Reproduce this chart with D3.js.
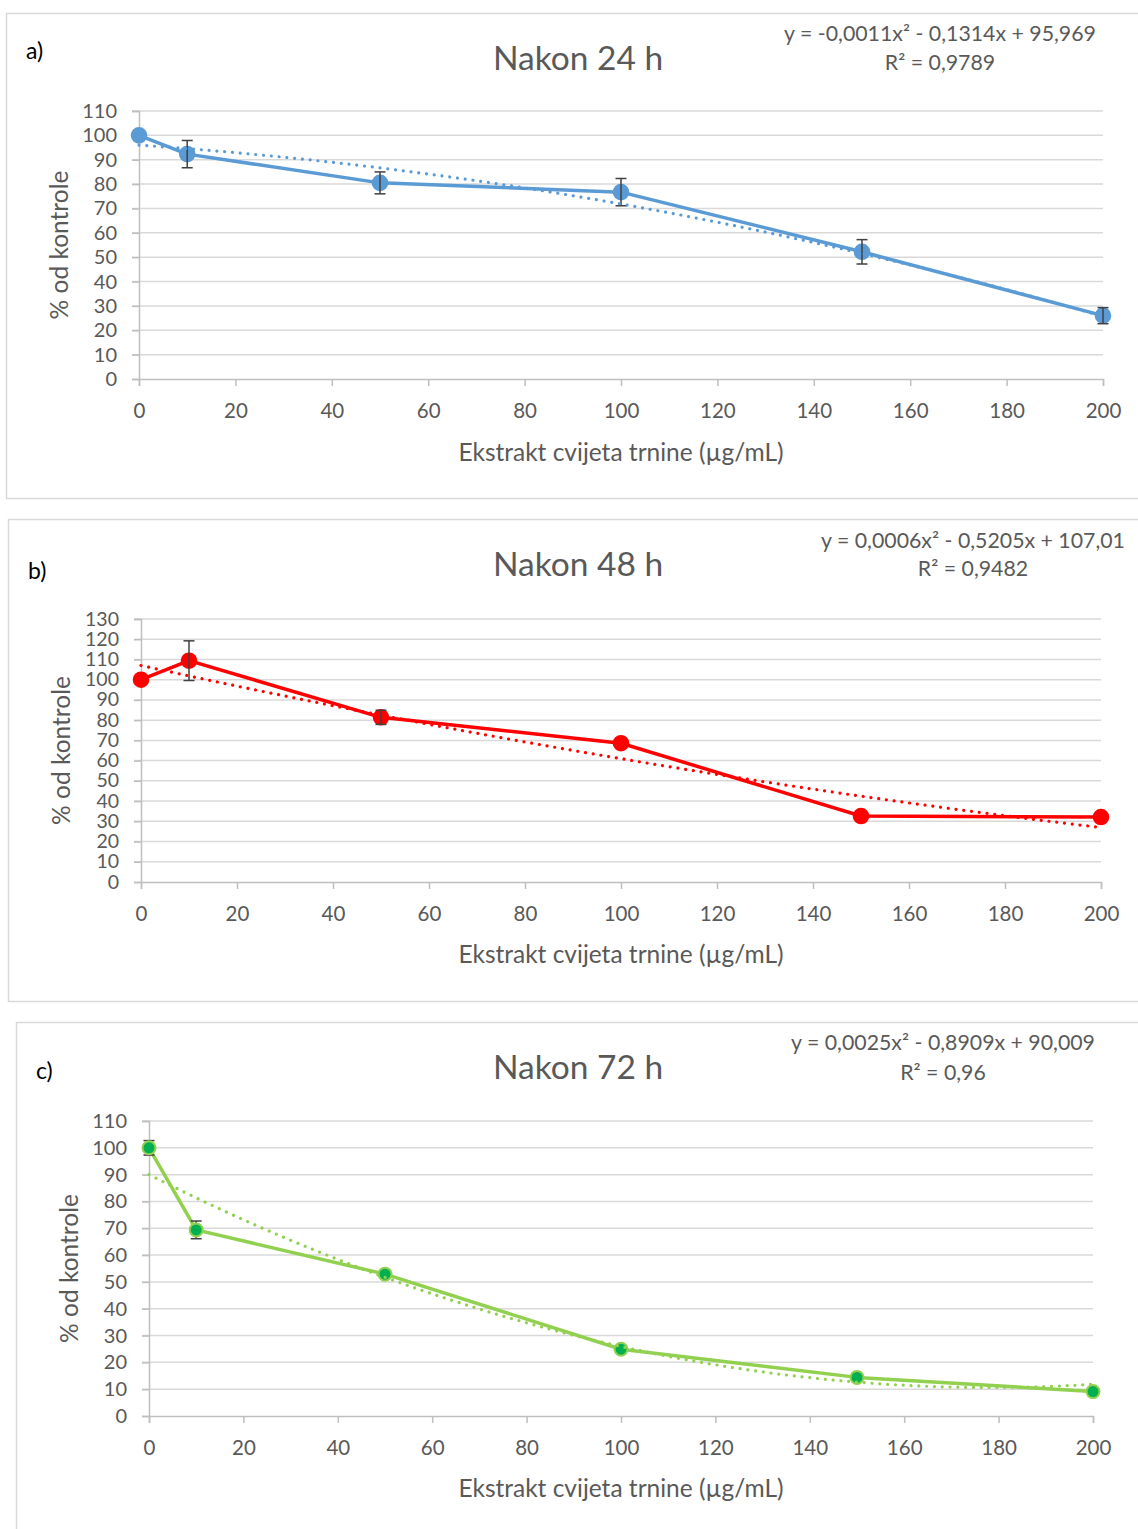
<!DOCTYPE html>
<html>
<head>
<meta charset="utf-8">
<script src="https://cdn.jsdelivr.net/npm/d3@7"></script>
<style>
  html, body { margin: 0; padding: 0; background: #fff; }
  svg { display: block; font-family: Lato, "Open Sans", sans-serif; }
</style>
</head>
<body>
<svg id="chart" width="1138" height="1529"></svg>
<script>
// ---------- data ----------
const concentrations = [0, 10, 50, 100, 150, 200];
const xTickValues = [0, 20, 40, 60, 80, 100, 120, 140, 160, 180, 200];

const values24 = [100, 92.3, 80.5, 76.7, 52.2, 26.0];
const errors24 = [0, 5.6, 4.5, 5.6, 5.0, 3.3];
const yTicks24 = [0, 10, 20, 30, 40, 50, 60, 70, 80, 90, 100, 110];
const trendCoef24 = [-0.0011, -0.1314, 95.969];
const equation24 = "y = -0,0011x² - 0,1314x + 95,969";
const rSquared24 = "R² = 0,9789";

const values48 = [100, 109.4, 81.4, 68.6, 32.6, 32.1];
const errors48 = [0, 9.8, 3.5, 0, 0, 0];
const yTicks48 = [0, 10, 20, 30, 40, 50, 60, 70, 80, 90, 100, 110, 120, 130];
const trendCoef48 = [0.0006, -0.5205, 107.01];
const equation48 = "y = 0,0006x² - 0,5205x + 107,01";
const rSquared48 = "R² = 0,9482";

const values72 = [100, 69.4, 52.9, 24.9, 14.4, 9.1];
const errors72 = [2.7, 3.3, 0, 0, 0, 0];
const yTicks72 = [0, 10, 20, 30, 40, 50, 60, 70, 80, 90, 100, 110];
const trendCoef72 = [0.0025, -0.8909, 90.009];
const equation72 = "y = 0,0025x² - 0,8909x + 90,009";
const rSquared72 = "R² = 0,96";

const panelLabels = ["a)", "b)", "c)"];
const panelTitles = ["Nakon 24 h", "Nakon 48 h", "Nakon 72 h"];
const xAxisTitle = "Ekstrakt cvijeta trnine (µg/mL)";
const yAxisTitle = "% od kontrole";

// ---------- layout ----------
const panels = [
  { values: values24, errors: errors24, yTicks: yTicks24, coef: trendCoef24, eq: equation24, r2: rSquared24,
    label: panelLabels[0], title: panelTitles[0],
    box: {x: 6.5, y: 13.5, h: 485}, plot: {l: 139, r: 1103, t: 111, b: 379},
    labelPos: [26, 50], titleY: 57, eqX: 940, eqY: [33, 62], yTitleX: 58, xTitleY: 451,
    color: "#5b9bd5", markerFill: "#5b9bd5", markerStroke: "#5b9bd5", markerR: 7.3, errOnTop: true, tickFont: 20 },
  { values: values48, errors: errors48, yTicks: yTicks48, coef: trendCoef48, eq: equation48, r2: rSquared48,
    label: panelLabels[1], title: panelTitles[1],
    box: {x: 8.5, y: 519.5, h: 482}, plot: {l: 141, r: 1101, t: 619, b: 882},
    labelPos: [28, 570], titleY: 563, eqX: 973, eqY: [540, 568], yTitleX: 60, xTitleY: 953,
    color: "#ff0000", markerFill: "#ff0000", markerStroke: "#ff0000", markerR: 7.3, errOnTop: true, tickFont: 19.5 },
  { values: values72, errors: errors72, yTicks: yTicks72, coef: trendCoef72, eq: equation72, r2: rSquared72,
    label: panelLabels[2], title: panelTitles[2],
    box: {x: 16.5, y: 1022.5, h: 520}, plot: {l: 149, r: 1093, t: 1121, b: 1416},
    labelPos: [36, 1070], titleY: 1066, eqX: 943, eqY: [1042, 1072], yTitleX: 68, xTitleY: 1487,
    color: "#92d050", markerFill: "#00b050", markerStroke: "#92d050", markerR: 6.5, errOnTop: false, tickFont: 20 }
];

const svg = d3.select("#chart");
const textColor = "#595959";

panels.forEach(p => {
  const g = svg.append("g");

  // frame
  g.append("rect")
    .attr("x", p.box.x).attr("y", p.box.y)
    .attr("width", 1145).attr("height", p.box.h)
    .attr("fill", "#fff").attr("stroke", "#d9d9d9").attr("stroke-width", 1.5);

  const yMax = d3.max(p.yTicks);
  const x = d3.scaleLinear().domain([0, 200]).range([p.plot.l, p.plot.r]);
  const y = d3.scaleLinear().domain([0, yMax]).range([p.plot.b, p.plot.t]);

  // gridlines
  g.append("g").selectAll("line").data(p.yTicks.filter(v => v > 0)).join("line")
    .attr("x1", p.plot.l - 7).attr("x2", p.plot.r)
    .attr("y1", d => y(d)).attr("y2", d => y(d))
    .attr("stroke", "#d9d9d9").attr("stroke-width", 1.5);

  // y axis
  const yAxis = g.append("g").attr("transform", `translate(${p.plot.l},0)`)
    .call(d3.axisLeft(y).tickValues(p.yTicks).tickSize(7).tickFormat(d3.format("d")));
  yAxis.select(".domain").attr("stroke", "#bfbfbf").attr("stroke-width", 1.5);
  yAxis.selectAll(".tick line").attr("stroke", "#bfbfbf").attr("stroke-width", 1.5);
  yAxis.selectAll(".tick text").attr("fill", textColor).attr("font-size", p.tickFont)
    .attr("font-family", "Lato, sans-serif")
    .attr("x", -22).attr("y", -1.5).attr("dy", null).attr("dominant-baseline", "central");

  // x axis
  const xAxis = g.append("g").attr("transform", `translate(0,${p.plot.b})`)
    .call(d3.axisBottom(x).tickValues(xTickValues).tickSize(7).tickFormat(d3.format("d")));
  xAxis.select(".domain").attr("stroke", "#bfbfbf").attr("stroke-width", 1.5);
  xAxis.selectAll(".tick line").attr("stroke", "#bfbfbf").attr("stroke-width", 1.5);
  xAxis.selectAll(".tick text").attr("fill", textColor).attr("font-size", 20.5)
    .attr("font-family", "Lato, sans-serif")
    .attr("y", 31).attr("dy", null).attr("dominant-baseline", "central");

  const pts = concentrations.map((c, i) => ({x: c, y: p.values[i], e: p.errors[i]}));

  const drawErrors = () => {
    const eb = g.append("g").attr("stroke", "#404040").attr("stroke-width", 1.5);
    pts.filter(d => d.e > 0).forEach(d => {
      eb.append("line").attr("x1", x(d.x)).attr("x2", x(d.x))
        .attr("y1", y(d.y - d.e)).attr("y2", y(d.y + d.e));
      [d.y - d.e, d.y + d.e].forEach(v => {
        eb.append("line").attr("x1", x(d.x) - 5.5).attr("x2", x(d.x) + 5.5)
          .attr("y1", y(v)).attr("y2", y(v));
      });
    });
  };

  // series line
  g.append("path").datum(pts)
    .attr("d", d3.line().x(d => x(d.x)).y(d => y(d.y)))
    .attr("fill", "none").attr("stroke", p.color).attr("stroke-width", 3.5)
    .attr("stroke-linejoin", "round");

  if (!p.errOnTop) drawErrors();

  // markers
  g.append("g").selectAll("circle").data(pts).join("circle")
    .attr("cx", d => x(d.x)).attr("cy", d => y(d.y)).attr("r", p.markerR)
    .attr("fill", p.markerFill).attr("stroke", p.markerStroke).attr("stroke-width", 2);

  if (p.errOnTop) drawErrors();

  // polynomial trendline (from the displayed equation coefficients)
  const trendX = d3.range(0, 200.01, 1);
  const trendPts = trendX.map(v => ({x: v, y: p.coef[0] * v * v + p.coef[1] * v + p.coef[2]}));
  g.append("path").datum(trendPts)
    .attr("d", d3.line().x(d => x(d.x)).y(d => y(d.y)))
    .attr("fill", "none").attr("stroke", p.color).attr("stroke-width", 3.2)
    .attr("stroke-linecap", "round").attr("stroke-dasharray", "0.01 7.8");

  // texts
  g.append("text").attr("x", p.labelPos[0]).attr("y", p.labelPos[1])
    .attr("dominant-baseline", "central").attr("font-size", 23).attr("fill", "#000")
    .text(p.label);
  g.append("text").attr("x", 578).attr("y", p.titleY)
    .attr("text-anchor", "middle").attr("dominant-baseline", "central")
    .attr("font-size", 33.5).attr("fill", textColor).text(p.title);
  g.append("text").attr("x", p.eqX).attr("y", p.eqY[0])
    .attr("text-anchor", "middle").attr("dominant-baseline", "central")
    .attr("font-size", 21.3).attr("fill", textColor).text(p.eq);
  g.append("text").attr("x", p.eqX).attr("y", p.eqY[1])
    .attr("text-anchor", "middle").attr("dominant-baseline", "central")
    .attr("font-size", 21.3).attr("fill", textColor).text(p.r2);
  g.append("text")
    .attr("transform", `translate(${p.yTitleX},${(p.plot.t + p.plot.b) / 2}) rotate(-90)`)
    .attr("text-anchor", "middle").attr("dominant-baseline", "central")
    .attr("font-size", 24.5).attr("fill", textColor).text(yAxisTitle);
  g.append("text").attr("x", 621).attr("y", p.xTitleY)
    .attr("text-anchor", "middle").attr("dominant-baseline", "central")
    .attr("font-size", 24.5).attr("fill", textColor).text(xAxisTitle);
});
</script>
</body>
</html>
